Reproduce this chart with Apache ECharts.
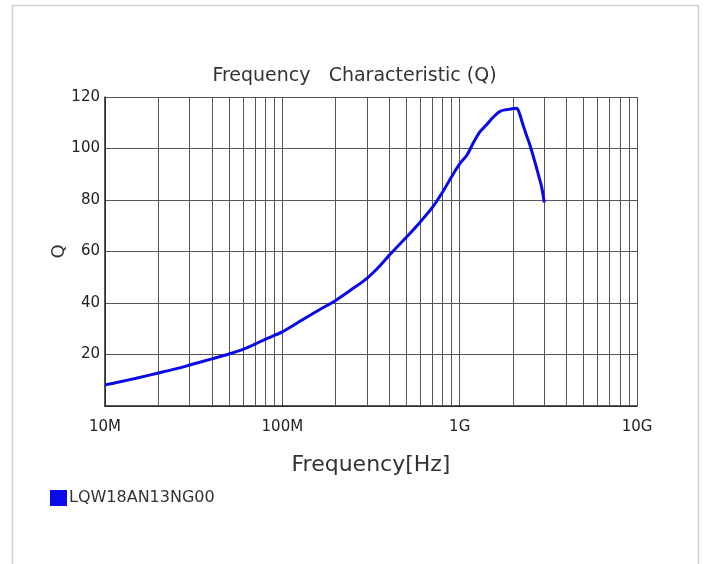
<!DOCTYPE html>
<html>
<head>
<meta charset="utf-8">
<script src="https://cdn.jsdelivr.net/npm/echarts@6/dist/echarts.min.js"></script>
<style>
html,body{margin:0;padding:0;background:#fff;}
#c{width:709px;height:564px;}
</style>
</head>
<body>
<div id="c"></div>
<script>
var seriesName = 'LQW18AN13NG00';
var freqHz = [1e7,1.2e7,1.5e7,2e7,2.5e7,3e7,4e7,5e7,6e7,7e7,8e7,9e7,1e8,1.3e8,1.6e8,2e8,2.5e8,3e8,3.5e8,4e8,4.5e8,5e8,6e8,7e8,8e8,9e8,1e9,1.1e9,1.2e9,1.3e9,1.4e9,1.5e9,1.6e9,1.7e9,1.8e9,1.9e9,2.0e9,2.1e9,2.15e9,2.2e9,2.3e9,2.4e9,2.5e9,2.6e9,2.7e9,2.8e9,2.9e9,3.0e9];
var qValues = [8.2,9.3,10.8,12.8,14.4,15.9,18.3,20.2,22.0,24.0,25.9,27.4,28.8,33.5,37.2,41.0,45.6,49.6,54.0,58.5,62.2,65.5,71.5,77.0,83.0,89.0,94.0,97.5,102.5,106.5,108.8,111.2,113.2,114.5,115.0,115.2,115.5,115.6,114.5,112.5,108.2,104.5,101.0,97.0,93.0,89.0,85.0,79.0];
var minorGridFreq = [2e7,3e7,4e7,5e7,6e7,7e7,8e7,9e7,2e8,3e8,4e8,5e8,6e8,7e8,8e8,9e8,2e9,3e9,4e9,5e9,6e9,7e9,8e9,9e9];
var xTickLabels = {1e7:'10M',1e8:'100M',1e9:'1G',1e10:'10G'};

var FONT = '"DejaVu Sans", Verdana, sans-serif';
var chart = echarts.init(document.getElementById('c'));
chart.setOption({
  backgroundColor: '#fff',
  animation: false,
  graphic: [{
    type: 'rect', left: 10, top: 3,
    shape: {width: 686, height: 600},
    style: {fill: 'none', stroke: '#d0d0d0', lineWidth: 1.5}
  }],
  title: {
    text: 'Frequency   Characteristic (Q)',
    left: 'center', top: 62,
    textStyle: {fontFamily: FONT, fontSize: 19, fontWeight: 'normal', color: '#333'}
  },
  legend: {
    left: 45, top: 485,
    itemWidth: 17, itemHeight: 16,
    icon: 'rect',
    data: [seriesName],
    textStyle: {fontFamily: FONT, fontSize: 16, color: '#333', padding: [0,0,0,-3]}
  },
  grid: {left: 105, right: 72, top: 97, bottom: 158},
  xAxis: {
    type: 'log', logBase: 10, min: 1e7, max: 1e10,
    name: 'Frequency[Hz]', nameLocation: 'middle', nameGap: 48,
    nameTextStyle: {fontFamily: FONT, fontSize: 22, color: '#333'},
    axisLine: {lineStyle: {color: '#222', width: 1.5}},
    axisTick: {show: false},
    axisLabel: {
      fontFamily: FONT, fontSize: 15, color: '#222', margin: 14,
      formatter: function (v) { return xTickLabels[v] || ''; }
    },
    splitLine: {show: true, lineStyle: {color: '#555', width: 1}}
  },
  yAxis: {
    type: 'value', min: 0, max: 120, interval: 20,
    name: 'Q', nameLocation: 'middle', nameGap: 37, nameMoveOverlap: false,
    nameTextStyle: {fontFamily: FONT, fontSize: 18, color: '#333'},
    axisLine: {show: true, lineStyle: {color: '#222', width: 1.5}},
    axisTick: {show: false},
    axisLabel: {
      fontFamily: FONT, fontSize: 15, color: '#222', margin: 5,
      formatter: function (v) { return v === 0 ? '' : String(v); }
    },
    splitLine: {show: true, lineStyle: {color: '#555', width: 1}}
  },
  series: [{
    name: seriesName,
    type: 'line',
    data: freqHz.map(function (f, i) { return [f, qValues[i]]; }),
    showSymbol: false,
    smooth: 0.3,
    lineStyle: {color: '#0a0ae8', width: 3},
    itemStyle: {color: '#0a0ae8'},
    z: 5,
    markLine: {
      silent: true, symbol: 'none', animation: false,
      label: {show: false},
      lineStyle: {color: '#555', width: 1, type: 'solid'},
      data: minorGridFreq.map(function (f) { return {xAxis: f}; })
    }
  }]
});
</script>
</body>
</html>
